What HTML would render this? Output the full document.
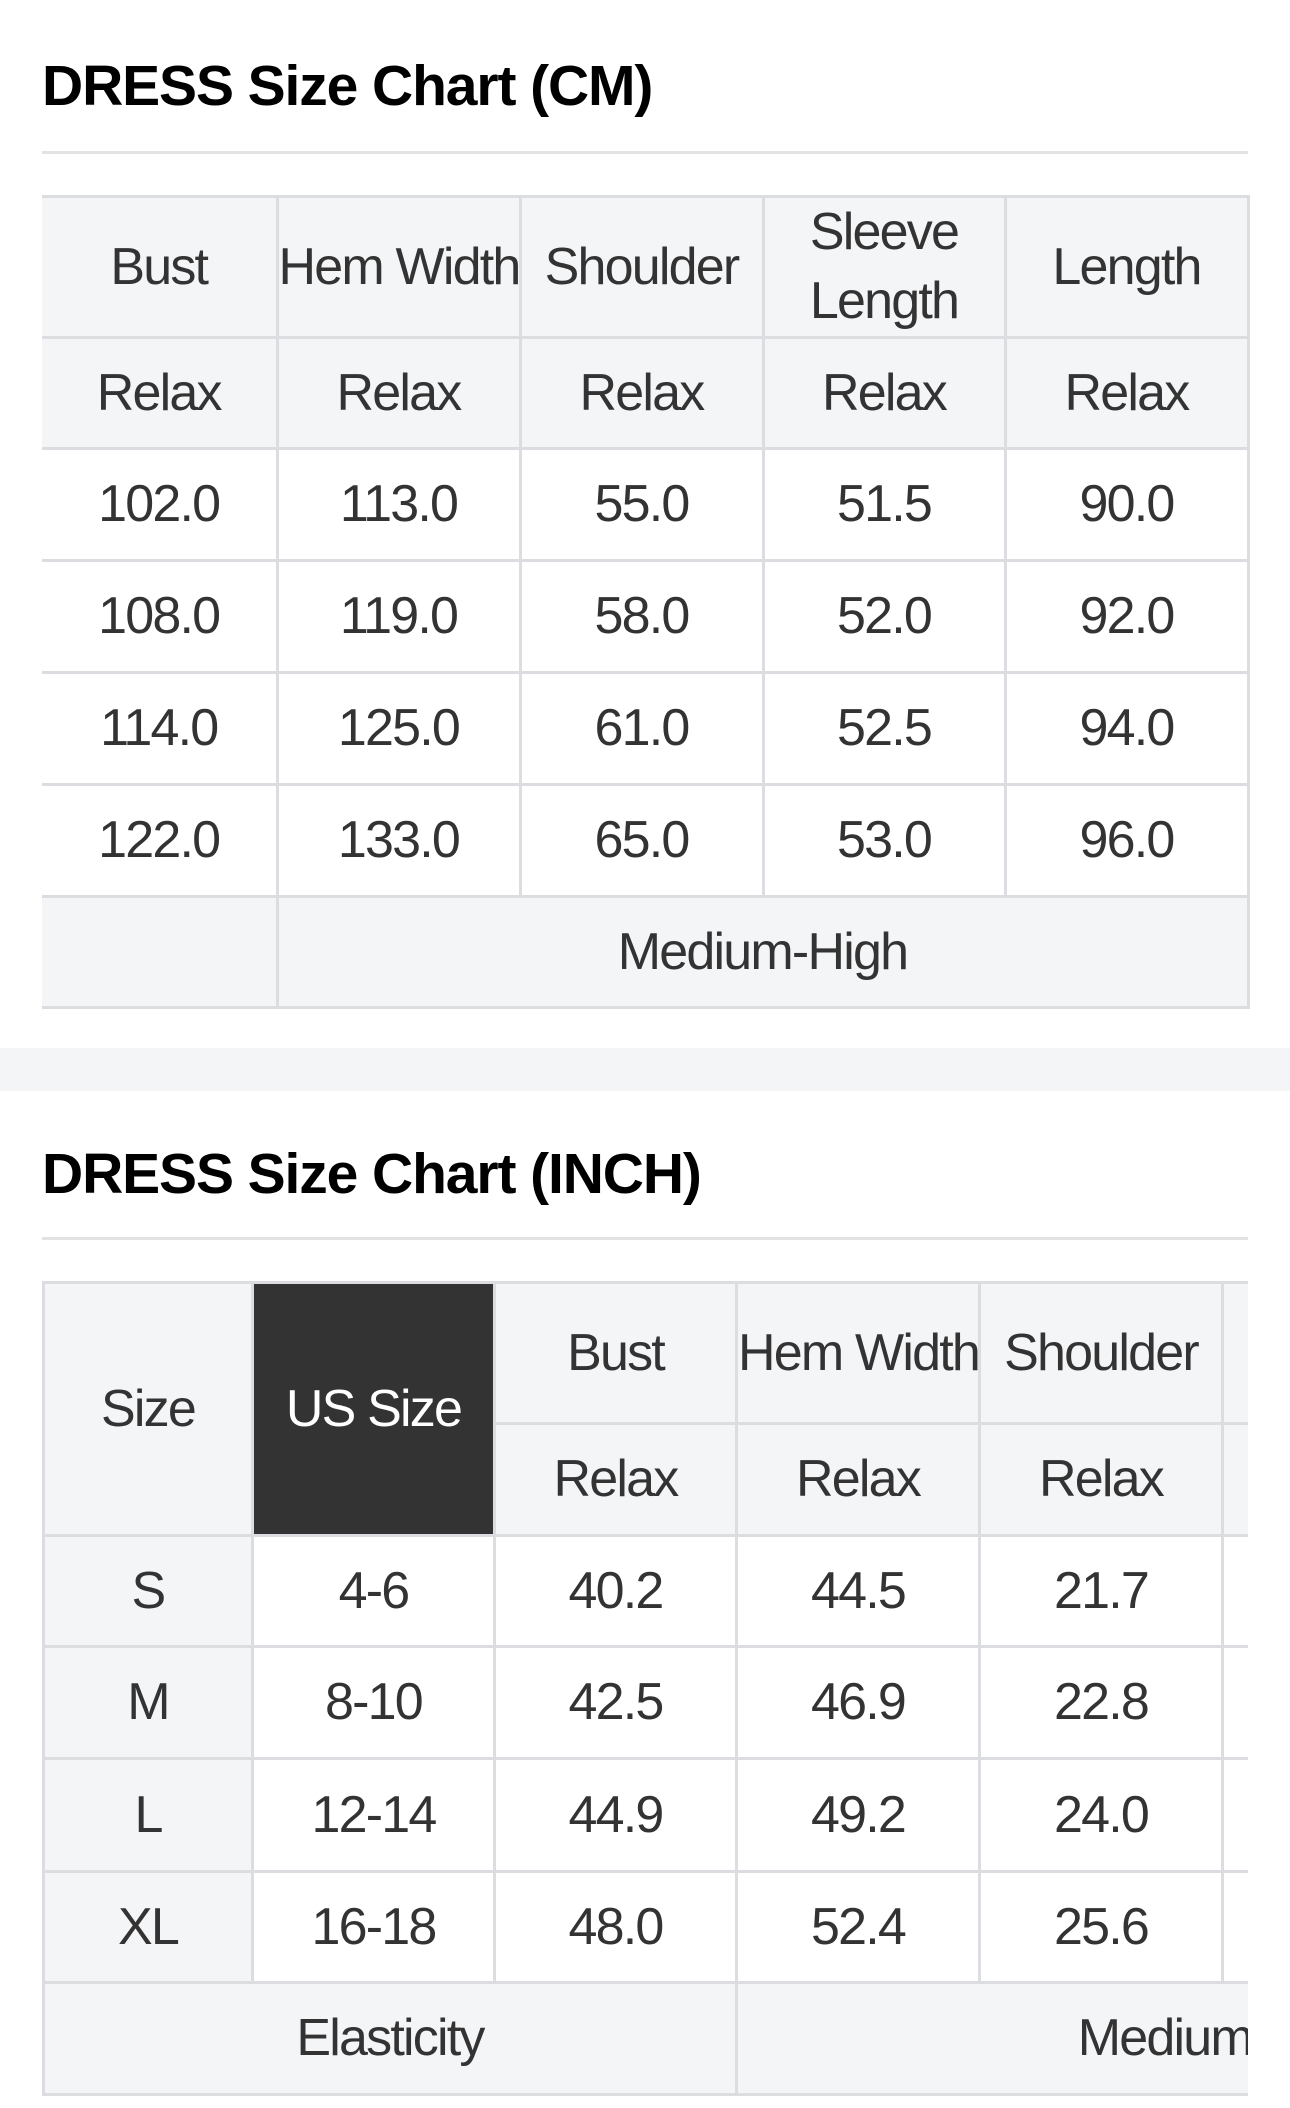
<!DOCTYPE html>
<html><head><meta charset="utf-8"><style>
body{margin:0;width:1290px;height:2108px;background:#fff;position:relative;overflow:hidden;font-family:"Liberation Sans",Arial,sans-serif;color:#333;}
.t{position:absolute;left:42px;font-weight:bold;font-size:57px;line-height:57px;color:#000;letter-spacing:-1.1px;white-space:nowrap;}
.hr{position:absolute;left:42px;width:1206px;height:3px;background:#e2e3e5;}
.band{position:absolute;left:0;width:1290px;top:1048px;height:43px;background:#f4f5f7;}
table{position:absolute;border-collapse:collapse;table-layout:fixed;font-size:52px;letter-spacing:-1.8px;}
td{border:3px solid #dcdde0;text-align:center;vertical-align:middle;padding:0;white-space:nowrap;line-height:69px;}
.g{background:#f4f5f7;}
.d{background:#333;color:#fff;border-color:#dcdde0;}
#t1{left:42px;top:195px;width:1206px;}
#t1 td:first-child{border-left:0;}
.wrap{position:absolute;left:42px;top:1281px;width:1206px;height:827px;overflow:hidden;}
#t2{left:0;top:0;width:1665px;}
</style></head><body>
<div class="t" style="top:58px">DRESS Size Chart (CM)</div>
<div class="hr" style="top:151px"></div>
<table id="t1">
<colgroup><col style="width:235px"><col style="width:243px"><col style="width:243px"><col style="width:242px"><col style="width:243px"></colgroup>
<tr style="height:140px" class="g"><td>Bust</td><td>Hem Width</td><td>Shoulder</td><td>Sleeve<br>Length</td><td>Length</td></tr>
<tr style="height:111px" class="g"><td>Relax</td><td>Relax</td><td>Relax</td><td>Relax</td><td>Relax</td></tr>
<tr style="height:112px"><td>102.0</td><td>113.0</td><td>55.0</td><td>51.5</td><td>90.0</td></tr>
<tr style="height:112px"><td>108.0</td><td>119.0</td><td>58.0</td><td>52.0</td><td>92.0</td></tr>
<tr style="height:112px"><td>114.0</td><td>125.0</td><td>61.0</td><td>52.5</td><td>94.0</td></tr>
<tr style="height:112px"><td>122.0</td><td>133.0</td><td>65.0</td><td>53.0</td><td>96.0</td></tr>
<tr style="height:111px" class="g"><td></td><td colspan="4">Medium-High</td></tr>
</table>
<div class="band"></div>
<div class="t" style="top:1146px">DRESS Size Chart (INCH)</div>
<div class="hr" style="top:1237px"></div>
<div class="wrap">
<table id="t2">
<colgroup><col style="width:209px"><col style="width:242px"><col style="width:242px"><col style="width:243px"><col style="width:243px"><col style="width:243px"><col style="width:243px"></colgroup>
<tr style="height:139px" class="g"><td rowspan="2">Size</td><td rowspan="2" class="d">US Size</td><td>Bust</td><td>Hem Width</td><td>Shoulder</td><td>Sleeve<br>Length</td><td>Length</td></tr>
<tr style="height:112px" class="g"><td>Relax</td><td>Relax</td><td>Relax</td><td>Relax</td><td>Relax</td></tr>
<tr style="height:111px"><td class="g">S</td><td>4-6</td><td>40.2</td><td>44.5</td><td>21.7</td><td>20.3</td><td>35.4</td></tr>
<tr style="height:112px"><td class="g">M</td><td>8-10</td><td>42.5</td><td>46.9</td><td>22.8</td><td>20.5</td><td>36.2</td></tr>
<tr style="height:113px"><td class="g">L</td><td>12-14</td><td>44.9</td><td>49.2</td><td>24.0</td><td>20.7</td><td>37.0</td></tr>
<tr style="height:111px"><td class="g">XL</td><td>16-18</td><td>48.0</td><td>52.4</td><td>25.6</td><td>20.9</td><td>37.8</td></tr>
<tr style="height:112px" class="g"><td colspan="3">Elasticity</td><td colspan="4">Medium-High</td></tr>
</table>
</div>
</body></html>
